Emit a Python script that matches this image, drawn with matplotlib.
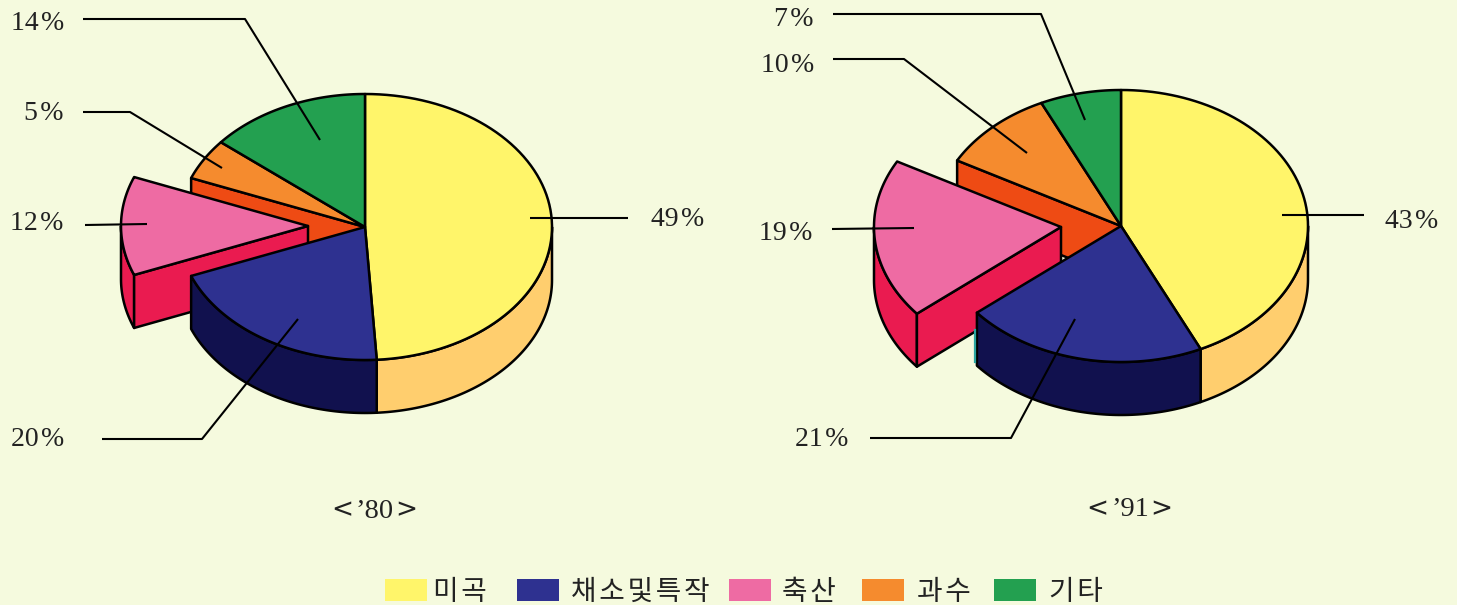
import numpy as np
import matplotlib
matplotlib.use("Agg")
import matplotlib.pyplot as plt
from matplotlib.patches import Polygon, Rectangle

# shares in percent, clockwise from 12 o'clock
categories = ["미곡", "채소및특작", "축산", "과수", "기타"]
values_80 = [49, 20, 12, 5, 14]
values_91 = [43, 21, 19, 10, 7]
years = ["’80", "’91"]

top_colors = ["#FFF56A", "#2E3190", "#EE6BA3", "#F58B2E", "#23A050"]
wall_colors = ["#FFCE6E", "#11114E", "#EA1B50", "#EE4B14", "#23A050"]
bg = "#F5FADE"
EXPLODED = 2
DEPTH = 53

fig = plt.figure(figsize=(14.57, 6.05), dpi=100, facecolor=bg)
ax = fig.add_axes([0, 0, 1, 1])
ax.set_xlim(0, 1457)
ax.set_ylim(605, 0)
ax.axis("off")


def rim(cx, cy, rx, ry, t0, t1):
    t = np.radians(np.linspace(t0, t1, 80))
    return np.column_stack([cx + rx * np.cos(t), cy - ry * np.sin(t)])


def shape(pts, color, z):
    ax.add_patch(Polygon(pts, closed=True, facecolor=color, edgecolor="black",
                         linewidth=1.8, joinstyle="round", zorder=z))


def extrude(pts, color, z):
    low = pts[::-1] + [0, DEPTH]
    shape(np.vstack([pts, low]), color, z)


def draw_pie(values, cx, cy, rx, ry, shift):
    edges = 90 - 3.6 * np.concatenate([[0], np.cumsum(values)])
    for i in range(len(values)):
        t0, t1 = edges[i], edges[i + 1]
        ox, oy = (cx + shift[0], cy + shift[1]) if i == EXPLODED else (cx, cy)
        z = 3 if i == EXPLODED else 4
        # front wall, only the lower half of the ellipse shows
        a0, a1 = min(t0, 0), max(t1, -180)
        if a0 > a1:
            extrude(rim(ox, oy, rx, ry, a0, a1), wall_colors[i], z)
        top = np.vstack([[ox, oy], rim(ox, oy, rx, ry, t0, t1)])
        shape(top, top_colors[i], 6 if i == EXPLODED else 5)
    # faces left bare by the slice that was pulled out
    t = edges[EXPLODED + 1]
    edge = np.array([[cx, cy], [cx + rx * np.cos(np.radians(t)), cy - ry * np.sin(np.radians(t))]])
    extrude(edge, wall_colors[EXPLODED + 1], 1)
    t = edges[EXPLODED]
    ox, oy = cx + shift[0], cy + shift[1]
    edge = np.array([[ox, oy], [ox + rx * np.cos(np.radians(t)), oy - ry * np.sin(np.radians(t))]])
    extrude(edge, wall_colors[EXPLODED], 3)


draw_pie(values_80, 365, 227, 187, 133, (-57, -1))
draw_pie(values_91, 1121, 226, 187, 136, (-60, 1))

# small teal sliver on the navy wall of the right pie
ax.plot([974.5, 974.5], [330, 362], color="#2AA5A0", lw=1.6, zorder=7)

# leader lines
leaders = [
    [(83, 19), (245, 19), (320, 140)],
    [(83, 112), (130, 112), (222, 168)],
    [(85, 225), (147, 224)],
    [(102, 439), (202, 439), (298, 319)],
    [(530, 218), (628, 218)],
    [(833, 14), (1041, 14), (1085, 120)],
    [(833, 59), (904, 59), (1027, 153)],
    [(832, 229), (914, 228)],
    [(870, 438), (1011, 438), (1075, 319)],
    [(1282, 215), (1364, 215)],
]
for pts in leaders:
    xs, ys = zip(*pts)
    ax.plot(xs, ys, color="black", lw=1.5, zorder=8, solid_capstyle="butt")

# percent labels
serif = ["Liberation Serif", "DejaVu Sans"]
label_pos = [
    (14, 64, 24, "right"), (5, 63, 114, "right"), (12, 63, 223, "right"),
    (20, 64, 440, "right"), (49, 651, 220, "left"),
    (7, 814, 19, "right"), (10, 814, 66, "right"), (19, 812, 233, "right"),
    (21, 848, 439, "right"), (43, 1385, 221, "left"),
]
for val, x, y, ha in label_pos:
    ax.text(x, y, f"{val}\u200a%", fontsize=20, family=serif, ha=ha, va="center",
            color="#222222", zorder=9)

# year captions, chevrons from a wider face
year_x = [375, 1130]
year_y = [511, 510]
for year, x, y in zip(years, year_x, year_y):
    ax.text(x, y, year, fontsize=20.5, family=serif, ha="center", va="center", color="#222222")
    ax.text(x - 33, y - 1, "<", fontsize=19, family="DejaVu Sans", ha="center", va="center", color="#222222")
    ax.text(x + 31, y - 1, ">", fontsize=19, family="DejaVu Sans", ha="center", va="center", color="#222222")

# legend along the bottom
swatch_x = [385, 517, 729, 862, 994]
text_x = [433, 571, 782, 917, 1049]
for name, color, sx, tx in zip(categories, top_colors, swatch_x, text_x):
    ax.add_patch(Rectangle((sx, 579), 42, 22, facecolor=color, edgecolor="none"))
    ax.text(tx, 592, "\u200a".join(name), fontsize=20, family=["Noto Sans CJK KR", "DejaVu Sans"],
            ha="left", va="center", color="#222222")

fig.savefig("out.png", dpi=100, facecolor=bg)
